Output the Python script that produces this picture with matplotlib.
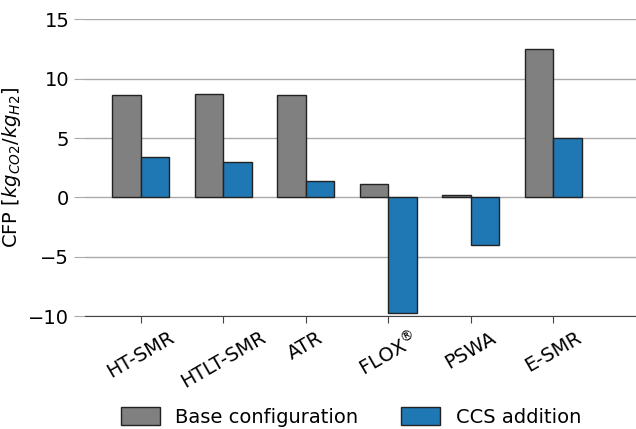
import numpy as np
import matplotlib.pyplot as plt

# Carbon footprint per process, with and without CCS
processes = ["HT-SMR", "HTLT-SMR", "ATR", r"FLOX$^{\circledR}$", "PSWA", "E-SMR"]
base_cfp = [8.62, 8.74, 8.62, 1.12, 0.17, 12.53]
ccs_cfp = [3.43, 3.0, 1.38, -9.72, -3.99, 5.0]

fig = plt.figure(figsize=(6.36, 4.29), dpi=100)
ax = fig.add_axes([0.134, 0.263, 0.866, 0.692])

x = np.arange(len(processes))
width = 0.345
ax.bar(x - width / 2, base_cfp, width, color="grey", edgecolor="#222222",
       linewidth=1, label="Base configuration", zorder=3)
ax.bar(x + width / 2, ccs_cfp, width, color="#1f77b4", edgecolor="#222222",
       linewidth=1, label="CCS addition", zorder=3)

# Grid and axes styling
ax.grid(axis="y", color="#aaaaaa", linewidth=1, zorder=0)
ax.set_ylim(-10, 15)
ax.set_xlim(-0.67, 6.0)
ax.set_yticks([-10, -5, 0, 5, 10, 15])
ax.set_xticks(x)
ax.set_xticklabels(processes, rotation=30, ha="center", fontsize=14)
ax.tick_params(axis="y", labelsize=14, length=8, color="#aaaaaa")
ax.tick_params(axis="x", length=5, color="#444444")
for side in ["top", "right", "left"]:
    ax.spines[side].set_visible(False)
ax.spines["bottom"].set_color("#444444")
ax.set_ylabel(r"CFP [$kg_{CO2}/kg_{H2}$]", fontsize=14)

fig.legend(loc="lower center", bbox_to_anchor=(0.552, -0.035), ncol=2,
           frameon=False, fontsize=14, handlelength=2.0, handleheight=1.0,
           columnspacing=2.2)

fig.savefig("out.png", dpi=100)
